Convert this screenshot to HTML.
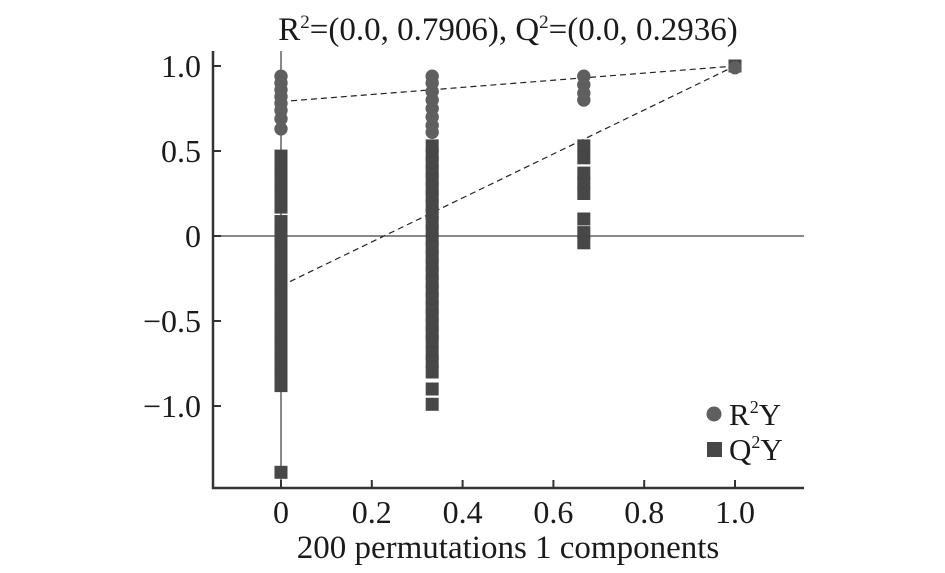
<!DOCTYPE html>
<html><head><meta charset="utf-8"><style>
body{margin:0;background:#fff;}
svg text{font-family:"Liberation Serif",serif;fill:#1a1a1a;}
</style></head><body>
<svg id="chart" width="945" height="568" viewBox="0 0 945 568" xmlns="http://www.w3.org/2000/svg">
<text x="508" y="40" font-size="33" text-anchor="middle">R<tspan font-size="19" dy="-12">2</tspan><tspan dy="12">=(0.0, 0.7906), Q</tspan><tspan font-size="19" dy="-12">2</tspan><tspan dy="12">=(0.0, 0.2936)</tspan></text>
<g id="lines"></g><g id="marks"></g><g id="axes"></g>
<text x="508" y="558" font-size="33" text-anchor="middle">200 permutations 1 components</text>
<g>
<circle cx="714" cy="414" r="7.5" fill="#5f5f5f"/>
<text x="729" y="425" font-size="31">R<tspan font-size="18" dy="-12">2</tspan><tspan dy="12">Y</tspan></text>
<rect x="707" y="442" width="15" height="15" fill="#474747"/>
<text x="729" y="460" font-size="31">Q<tspan font-size="18" dy="-12">2</tspan><tspan dy="12">Y</tspan></text>
</g>
</svg>
<script>
const xTicks=[0,0.2,0.4,0.6,0.8,1.0];
const xTickLabels=["0","0.2","0.4","0.6","0.8","1.0"];
const yTicks=[1.0,0.5,0,-0.5,-1.0];
const yTickLabels=["1.0","0.5","0","\u22120.5","\u22121.0"];
const columns=[0,0.333,0.667,1.0];
const r2Col0=[0.94,0.90,0.86,0.82,0.78,0.74,0.69,0.63];
const r2Col1=[0.94,0.90,0.85,0.80,0.75,0.70,0.65,0.61];
const r2Col2=[0.94,0.89,0.84,0.80];
const r2Col3=[0.99];
const q2Col0=[0.47,0.42,0.36,0.30,0.24,0.17,0.085,0.03,-0.03,-0.09,-0.15,-0.21,-0.27,-0.33,-0.39,-0.45,-0.51,-0.58,-0.64,-0.70,-0.76,-0.82,-0.88,-1.39];
const q2Col1=[0.53,0.48,0.43,0.38,0.33,0.28,0.23,0.18,0.13,0.08,0.03,-0.02,-0.07,-0.12,-0.17,-0.22,-0.27,-0.32,-0.37,-0.42,-0.47,-0.52,-0.57,-0.62,-0.69,-0.74,-0.80,-0.90,-0.99];
const q2Col2=[0.53,0.46,0.37,0.31,0.25,0.10,0.02,-0.04];
const q2Col3=[1.0];
const r2Fit=[0.7906,1.0];
const q2Fit=[-0.2936,1.0];
const fitX=[0,1];

const X0=281,XS=454,Y0=236,YS=170;
const sx=v=>X0+v*XS, sy=v=>Y0-v*YS;
const NS="http://www.w3.org/2000/svg";
function mk(t,a,p){const e=document.createElementNS(NS,t);for(const k in a)e.setAttribute(k,a[k]);p.appendChild(e);return e;}
const axes=document.getElementById('axes'),marks=document.getElementById('marks'),lines=document.getElementById('lines');

let e=mk('line',{x1:213,y1:51,x2:213,y2:489,stroke:'#333','stroke-width':2.5},axes);

e=mk('line',{x1:212,y1:488,x2:804,y2:488,stroke:'#333','stroke-width':2.5},axes);

e=mk('line',{x1:213,y1:sy(0),x2:804,y2:sy(0),stroke:'#111','stroke-width':1},lines);

e=mk('line',{x1:sx(0),y1:51,x2:sx(0),y2:488,stroke:'#111','stroke-width':1},lines);

e=mk('line',{x1:sx(fitX[0]),y1:sy(r2Fit[0]),x2:sx(fitX[1]),y2:sy(r2Fit[1]),stroke:'#222','stroke-width':1.2,'stroke-dasharray':'6,4'},lines);

e=mk('line',{x1:sx(fitX[0]),y1:sy(q2Fit[0]),x2:sx(fitX[1]),y2:sy(q2Fit[1]),stroke:'#222','stroke-width':1.2,'stroke-dasharray':'6,4'},lines);


xTicks.forEach((v,i)=>{
 let t=mk('line',{x1:sx(v),y1:488,x2:sx(v),y2:480,stroke:'#333','stroke-width':2},axes);
 
 let l=mk('text',{x:sx(v),y:523,'font-size':32,'text-anchor':'middle'},axes);l.textContent=xTickLabels[i];
 
});
yTicks.forEach((v,i)=>{
 let t=mk('line',{x1:213,y1:sy(v),x2:221,y2:sy(v),stroke:'#333','stroke-width':2},axes);
 
 let l=mk('text',{x:201,y:sy(v)+11,'font-size':32,'text-anchor':'end'},axes);l.textContent=yTickLabels[i];
 
});
const q2Cols=[q2Col0,q2Col1,q2Col2,q2Col3];
const r2Cols=[r2Col0,r2Col1,r2Col2,r2Col3];
q2Cols.forEach((col,ci)=>col.forEach(v=>{
 let r=mk('rect',{x:sx(columns[ci])-6.5,y:sy(v)-6.5,width:13,height:13,fill:'#474747'},marks);
 
}));
r2Cols.forEach((col,ci)=>col.forEach(v=>{
 let c=mk('circle',{cx:sx(columns[ci]),cy:sy(v),r:6.7,fill:'#5f5f5f'},marks);
 
}));
</script>
</body></html>
